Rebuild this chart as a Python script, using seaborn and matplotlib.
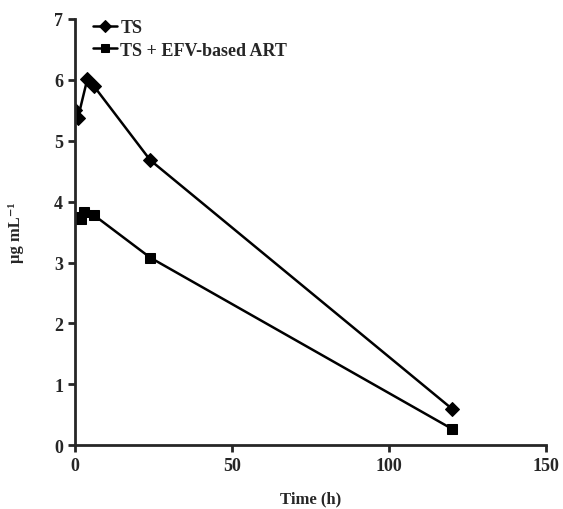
import pandas as pd
import seaborn as sns
import matplotlib.pyplot as plt

# concentration over time for the two groups
ts_time = [0, 1, 4, 6, 24, 120]
ts_conc = [5.50, 5.38, 6.02, 5.90, 4.68, 0.60]
art_time = [0, 2, 3, 6, 24, 120]
art_conc = [3.75, 3.72, 3.83, 3.78, 3.08, 0.27]

df = pd.concat([
    pd.DataFrame({'time': ts_time, 'conc': ts_conc, 'group': 'TS'}),
    pd.DataFrame({'time': art_time, 'conc': art_conc, 'group': 'TS + EFV-based ART'}),
])

sns.set_style('ticks')
plt.rcParams['font.family'] = ['Liberation Serif', 'DejaVu Serif']
plt.rcParams['font.weight'] = 'bold'

fig = plt.figure(figsize=(5.63, 5.10), dpi=100)
ax = fig.add_axes([0.133, 0.125, 0.837, 0.836])

sns.lineplot(data=df, x='time', y='conc', hue='group', style='group',
             markers={'TS': 'D', 'TS + EFV-based ART': 's'}, dashes=False,
             palette=['black', 'black'], markersize=7.5, linewidth=1.8,
             markeredgecolor='black', ax=ax)

ax.set_xlim(0, 150)
ax.set_ylim(0, 7)
ax.set_xticks([0, 50, 100, 150])
ax.set_yticks(range(0, 8))
ax.set_xlabel('Time (h)', fontsize=12, fontweight='bold', labelpad=12)
ax.set_ylabel('μg mL⁻¹', fontsize=12, fontweight='bold', labelpad=22)
ax.tick_params(labelsize=13, width=2, length=5)
for lab in ax.get_xticklabels() + ax.get_yticklabels():
    lab.set_fontweight('bold')
sns.despine(ax=ax)
for s in ['left', 'bottom']:
    ax.spines[s].set_linewidth(2)

leg = ax.legend(loc='upper left', frameon=False, fontsize=13, handlelength=1.3,
                handletextpad=0.2, borderaxespad=0.1, labelspacing=0.3,
                markerscale=0.8, bbox_to_anchor=(0.02, 1.02))

plt.savefig('out.png', dpi=100)
